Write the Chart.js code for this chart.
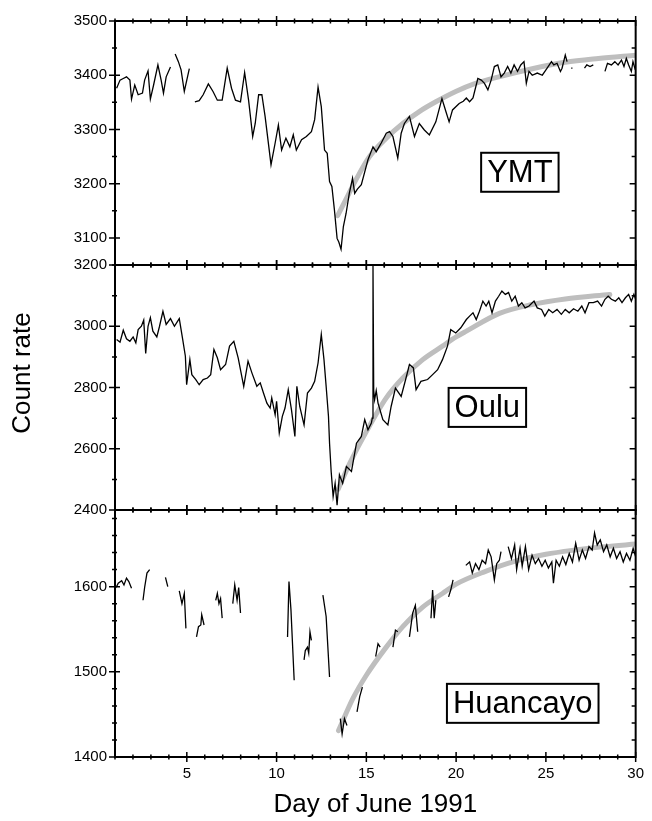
<!DOCTYPE html>
<html>
<head>
<meta charset="utf-8">
<script src="https://cdn.jsdelivr.net/npm/chart.js@4.4.1/dist/chart.umd.min.js"></script>
<style>
    body { margin: 0; background: #fff; }
    #wrap { width: 652px; height: 821px; }
</style>
</head>
<body>
<div id="wrap"><canvas id="grafico" width="652" height="821"></canvas></div>
<script>
// tick labels
const dayTicks = [5, 10, 15, 20, 25, 30]
const ymtTicks = [3100, 3200, 3300, 3400, 3500]
const ouluTicks = [2400, 2600, 2800, 3000, 3200]
const huanTicks = [1400, 1500, 1600]

// YMT (null = gap in the record)
const ymtDays = [1.09,1.28,1.46,1.64,1.83,1.92,2.10,2.29,2.53,2.65,2.84,2.97,3.15,3.39,3.57,3.70,3.85,4.09,4.22,4.35,
    4.53,4.68,4.86,5.14,5.30,5.45,5.69,5.91,6.20,6.46,6.70,6.97,7.25,7.49,7.71,7.99,8.22,8.44,8.67,8.81,
    9.00,9.18,9.36,9.69,9.92,10.10,10.28,10.52,10.74,10.93,11.10,11.39,11.66,11.94,12.12,12.31,12.49,12.67,12.82,12.95,
    13.08,13.22,13.37,13.47,13.59,13.72,13.87,14.05,14.23,14.35,14.50,14.72,15.09,15.37,15.55,15.83,16.11,16.29,16.48,16.75,
    16.94,17.12,17.40,17.68,17.95,18.23,18.51,18.87,19.21,19.43,19.61,19.80,20.17,20.40,20.57,20.75,20.94,21.21,21.40,21.58,
    21.77,21.95,22.13,22.32,22.50,22.68,22.87,23.05,23.23,23.42,23.60,23.78,23.91,24.06,24.24,24.52,24.80,25.07,25.31,25.44,
    25.62,25.81,25.90,26.08,26.18,26.30,26.41,26.48,26.80,
    27.15,27.28,27.46,27.64,27.95,28.29,28.43,28.65,28.84,29.02,29.21,29.35,29.48,29.61,29.76,29.85,29.98]
const ymtRate = [3376,3391,3394,3397,3391,3356,3382,3364,3367,3391,3408,3356,3382,3419,3391,3367,3397,3415,null,3439,
    3425,3410,3370,3412,null,3351,3353,3364,3384,3370,3354,3354,3413,3376,3354,3351,3405,3354,3287,3311,
    3364,3364,3324,3235,3275,3308,3262,3284,3268,3290,3262,3281,3287,3296,3318,3378,3342,3262,3256,3204,
    3195,3152,3099,3092,3079,3121,3145,3182,3210,3182,3190,3198,3244,3268,3259,3275,3293,3296,3287,3247,
    3293,3311,3324,3287,3311,3299,3290,3314,3357,3333,3314,3336,3348,3352,3358,3351,3358,3394,3391,3385,
    3373,3391,3416,3419,3397,3404,3416,3404,3419,3407,3419,3425,3385,3407,3400,3404,3400,3413,3425,3419,
    3422,3407,3413,3437,3425,null,3413,3413,null,
    3413,3419,3416,3419,null,3407,3422,3419,3425,3419,3428,3416,3431,3419,3407,3425,3410]

// Oulu
const ouluDays = [1.09,1.28,1.46,1.64,1.83,2.01,2.16,2.29,2.47,2.60,2.71,2.84,2.97,3.11,3.33,3.48,3.67,3.85,4.09,4.31,
    4.58,4.77,4.92,4.99,5.17,5.28,5.50,5.69,5.91,6.15,6.33,6.51,6.70,6.88,7.16,7.38,7.62,7.86,8.17,8.41,
    8.63,8.90,9.09,9.27,9.46,9.64,9.73,9.92,10.00,10.15,10.32,10.47,10.65,10.83,11.02,11.13,11.29,11.53,11.72,11.94,
    12.12,12.31,12.49,12.64,12.76,12.89,12.95,13.04,13.15,13.26,13.37,13.50,13.68,13.89,14.17,14.45,14.72,14.91,15.09,15.28,
    15.33,15.37,15.41,15.46,15.55,15.65,15.92,16.20,16.38,16.62,16.94,17.21,17.40,17.62,17.77,18.04,18.41,18.69,18.97,19.24,19.52,
    19.70,19.98,20.26,20.57,20.75,20.94,21.12,21.30,21.49,21.67,21.82,22.00,22.19,22.37,22.55,22.74,22.92,23.10,23.29,23.47,
    23.66,23.84,24.06,24.34,24.52,24.76,24.94,25.16,25.38,25.62,25.86,26.08,26.30,26.54,26.78,27.00,27.18,27.40,27.64,27.88,
    28.10,28.29,28.47,28.65,28.87,29.06,29.24,29.43,29.61,29.76,29.90,30.00]
const ouluRate = [2957,2948,2987,2959,2951,2965,2946,2989,3000,3020,2911,3000,3028,2984,2965,3000,3049,3006,3025,3000,
    3025,2957,2902,2809,2891,2842,2826,2809,2826,2831,2842,2924,2897,2858,2875,2935,2951,2897,2804,2886,
    2847,2804,2815,2782,2749,2733,2766,2711,2755,2651,2706,2733,2793,2727,2640,2804,2738,2678,2782,2798,
    2820,2880,2973,2891,2804,2706,2618,2526,2444,2487,2416,2515,2487,2542,2526,2618,2640,2695,2662,2684,
    2700,3200,2790,2760,2790,2749,2695,2678,2738,2798,2771,2831,2875,2864,2793,2820,2826,2842,2858,2891,2935,
    2989,2978,2995,3022,3033,3044,3022,3049,3082,3066,3082,3044,3082,3098,3115,3104,3110,3082,3098,3066,
    3077,3060,3066,3082,3060,3055,3033,3055,3044,3055,3039,3055,3044,3057,3049,3066,3044,3077,3077,3082,
    3066,3088,3098,3088,3082,3093,3077,3093,3104,3082,3104,3088]

// Huancayo
const huanDays = [1.06,1.18,1.37,1.50,1.64,1.77,1.92,2.2, 2.56,2.65,2.78,2.93,3.4, 3.81,3.94,4.2,
    4.58,4.73,4.86,4.95,5.2, 5.54,5.65,5.78,5.83,5.96,6.3, 6.61,6.70,6.79,6.88,6.97,7.3,
    7.56,7.67,7.80,7.89,7.99,9.3, 10.61,10.69,10.80,10.98,11.2, 11.53,11.60,11.72,11.79,11.86,11.94,12.3,
    12.58,12.76,12.95,13.3, 13.55,13.65,13.78,13.92,14.2, 14.48,14.63,14.78,15.1, 15.52,15.65,15.77,16.1,
    16.48,16.62,16.75,17.1, 17.40,17.58,17.73,17.86,18.2, 18.60,18.69,18.78,18.87,19.2, 19.58,19.70,19.83,20.2,
    20.54,20.75,20.90,21.08,21.27,21.45,21.64,21.79,21.95,22.13,22.26,22.41,22.50,22.7,
    22.90,23.08,23.26,23.37,23.56,23.68,23.86,24.04,24.23,24.41,24.59,24.78,24.96,25.14,25.33,25.42,25.57,25.75,25.93,26.11,
    26.30,26.48,26.66,26.85,27.03,27.21,27.40,27.58,27.71,27.86,28.03,28.21,28.39,28.58,28.76,28.94,29.13,29.31,29.49,29.68,
    29.86,30.00]
const huanRate = [1599,1604,1607,1602,1610,1606,1598,null, 1584,1599,1616,1620,null, 1611,1600,null,
    1595,1580,1592,1551,null, 1541,1553,1555,1567,1555,null, 1584,1592,1580,1586,1563,null,
    1580,1602,1584,1599,1569,null, 1541,1606,1573,1490,null, 1514,1525,1529,1522,1547,1537,null,
    1590,1565,1494,null, 1445,1427,1445,1437,null, 1453,1471,1482,null, 1518,1533,1529,null,
    1529,1549,1547,null, 1541,1569,1578,1547,null, 1563,1596,1563,1584,null, 1588,1596,1608,null,
    1625,1629,1616,1627,1620,1631,1627,1643,1635,1608,1627,1631,1641,null,
    1647,1633,1649,1620,1645,1624,1647,1620,1637,1627,1633,1624,1631,1622,1629,1604,1631,1624,1635,1626,
    1639,1629,1651,1631,1643,1633,1647,1643,1663,1649,1655,1641,1649,1635,1645,1633,1641,1629,1639,1631,
    1645,1635]

// recovery fits (grey curves)
const ymtFitDays = [13.40,14.00,14.50,15.18,16.11,17.03,17.95,18.87,19.98,21.00,22.50,24.24,26.08,27.92,30.00]
const ymtFit = [3141,3180,3212,3250,3284,3311,3333,3351,3370,3384,3398,3412,3424,3431,3437]
const ouluFitDays = [13.43,14.08,15.00,16.11,17.03,18.14,19.24,20.00,20.57,22.41,24.24,26.08,28.56]
const ouluFit = [2468,2553,2656,2766,2831,2891,2935,2965,2984,3042,3071,3089,3104]
const huanFitDays = [13.45,14.26,15.00,16.11,17.03,18.14,19.24,20.00,21.64,23.30,25.00,26.62,28.28,30.00]
const huanFit = [1431,1469,1496,1529,1553,1576,1592,1603,1618,1630,1638,1643,1647,1650]

const fonte = "'Liberation Sans', Arial, Helvetica, sans-serif"

function serie(days, vals) {
    return days.map(function (d, i) { return { x: d, y: vals[i] } })
}

// panels, top to bottom
const paineis = [
    { id: 'yY', min: 3050, max: 3500, ticks: ymtTicks, minor: 50, peso: 244, nome: 'YMT', pos: [23.55, 3221] },
    { id: 'yO', min: 2400, max: 3200, ticks: ouluTicks, minor: 100, peso: 245, nome: 'Oulu', pos: [21.74, 2735] },
    { id: 'yH', min: 1400, max: 1690, ticks: huanTicks, minor: 20, peso: 247, nome: 'Huancayo', pos: [23.71, 1463] }
]

function eixoY(p) {
    return {
        type: 'linear',
        position: 'left',
        stack: 'painel',
        stackWeight: p.peso,
        min: p.min,
        max: p.max,
        afterBuildTicks: function (s) { s.ticks = p.ticks.map(function (v) { return { value: v } }) },
        afterFit: function (s) { s.width = 110 },
        grid: { display: false, drawTicks: false, tickLength: 0 },
        border: { display: false },
        ticks: {
            autoSkip: false,
            padding: 8,
            color: '#000',
            font: { family: fonte, size: 15 },
            callback: function (v) { return String(v) }
        }
    }
}

const moldura = {
    id: 'moldura',
    afterDraw: function (chart) {
        const c = chart.ctx
        const xs = chart.scales.x
        c.save()
        c.strokeStyle = '#000'
        c.fillStyle = '#000'
        c.lineWidth = 2
        paineis.forEach(function (p) {
            const s = chart.scales[p.id]
            const l = xs.left, r = xs.right, t = s.top, b = s.bottom
            c.lineWidth = 2
            c.strokeRect(l, t, r - l, b - t)
            c.beginPath()
            c.lineWidth = 1.5
            for (let d = 1; d <= 30; d++) {
                const x = xs.getPixelForValue(d)
                const len = d % 5 === 0 ? 5 : 2.5
                c.moveTo(x, t - len); c.lineTo(x, t + len)
                c.moveTo(x, b - len); c.lineTo(x, b + len)
            }
            for (let v = p.min; v <= p.max; v += p.minor) {
                const y = s.getPixelForValue(v)
                const maior = p.ticks.indexOf(v) >= 0
                c.moveTo(l - (maior ? 6 : 3), y); c.lineTo(l + (maior ? 5 : 2), y)
                c.moveTo(r, y); c.lineTo(r - (maior ? 6 : 4), y)
            }
            c.stroke()

            // station label
            c.font = '31px ' + fonte
            c.textAlign = 'center'
            c.textBaseline = 'middle'
            const cx = xs.getPixelForValue(p.pos[0])
            const cy = s.getPixelForValue(p.pos[1])
            const w = c.measureText(p.nome).width + 12
            c.lineWidth = 2
            c.fillStyle = '#fff'
            c.fillRect(cx - w / 2, cy - 19.5, w, 39)
            c.strokeRect(cx - w / 2, cy - 19.5, w, 39)
            c.fillStyle = '#000'
            c.fillText(p.nome, cx, cy + 1)
        })

        // y title
        c.translate(22.5, 373)
        c.rotate(-Math.PI / 2)
        c.font = '26px ' + fonte
        c.textAlign = 'center'
        c.textBaseline = 'middle'
        c.fillText('Count rate', 0, 0)
        c.restore()
    }
}

function linha(dados, eixo) {
    return { data: dados, yAxisID: eixo, borderColor: '#000', borderWidth: 1.3, pointRadius: 0, spanGaps: false, order: 0 }
}
function ajuste(dados, eixo) {
    return { data: dados, yAxisID: eixo, borderColor: '#bebebe', borderWidth: 5, pointRadius: 0, cubicInterpolationMode: 'monotone', borderCapStyle: 'round', order: 1 }
}

const ctx = document.getElementById('grafico')

new Chart(ctx, {
    type: 'line',
    data: {
        datasets: [
            linha(serie(ymtDays, ymtRate), 'yY'),
            linha(serie(ouluDays, ouluRate), 'yO'),
            linha(serie(huanDays, huanRate), 'yH'),
            ajuste(serie(ymtFitDays, ymtFit), 'yY'),
            ajuste(serie(ouluFitDays, ouluFit), 'yO'),
            ajuste(serie(huanFitDays, huanFit), 'yH')
        ]
    },
    options: {
        responsive: false,
        animation: false,
        layout: { padding: { left: 5, right: 11, top: 21, bottom: 0 } },
        plugins: { legend: { display: false }, tooltip: { enabled: false } },
        scales: {
            x: {
                type: 'linear',
                min: 1,
                max: 30,
                afterBuildTicks: function (s) { s.ticks = dayTicks.map(function (v) { return { value: v } }) },
                afterFit: function (s) { s.height = 64 },
                grid: { display: false, drawTicks: false, tickLength: 0 },
                border: { display: false },
                ticks: { autoSkip: false, maxRotation: 0, padding: 8, color: '#000', font: { family: fonte, size: 15 } },
                title: { display: true, text: 'Day of June 1991', color: '#000', font: { family: fonte, size: 26 }, padding: { top: 0, bottom: 1 } }
            },
            yH: eixoY(paineis[2]),
            yO: eixoY(paineis[1]),
            yY: eixoY(paineis[0])
        }
    },
    plugins: [moldura]
});
</script>
</body>
</html>
